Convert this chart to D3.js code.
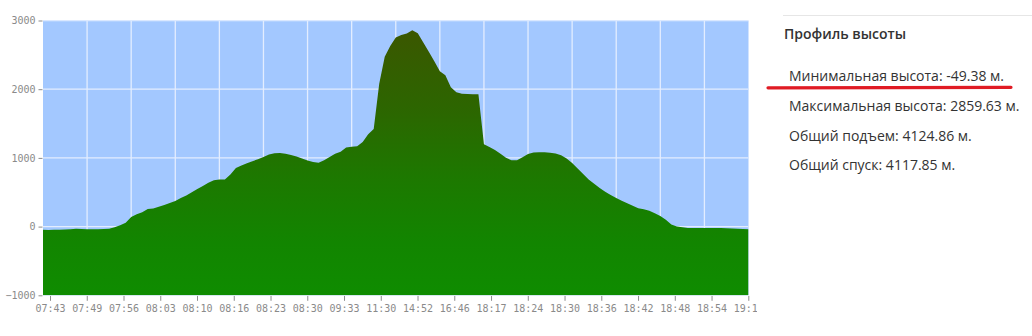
<!DOCTYPE html>
<html>
<head>
<meta charset="utf-8">
<title>Профиль высоты</title>
<script src="https://d3js.org/d3.v7.min.js"></script>
<style>
  body { margin: 0; background: #fff; }
  svg { display: block; }
</style>
</head>
<body>
<script>
// elevation samples (m), evenly spaced along the track
const elevation = [
  -47, -49, -47, -46, -42, -39, -33, -35, -39, -39, -39, -36, -33, -10, 20, 55,
  141, 178, 210, 258, 262, 288, 316, 342, 374, 415, 454, 501, 547, 592, 638, 674,
  687, 686, 758, 852, 888, 923, 953, 981, 1013, 1048, 1068, 1071, 1060, 1042, 1019, 991,
  962, 942, 929, 967, 1013, 1061, 1090, 1153, 1162, 1170, 1231, 1344, 1419, 2080,
  2472, 2629, 2753, 2789, 2812, 2859, 2814, 2678, 2544, 2406, 2261, 2202, 2028, 1955, 1934, 1930,
  1926, 1926, 1198, 1160, 1115, 1060, 1003, 965, 965, 1009, 1058, 1077, 1084, 1081, 1076, 1063,
  1038, 990, 926, 846, 766, 686, 622, 562, 509, 460, 416, 376, 339, 303, 266, 252,
  231, 195, 154, 98, 31, 3, -10, -19, -20, -20, -20, -20, -20, -22, -25, -29,
  -32, -36, -39
];
const timeLabels = ["07:43", "07:49", "07:56", "08:03", "08:10", "08:16", "08:23", "08:30", "09:33", "11:30",
  "14:52", "16:46", "18:17", "18:24", "18:30", "18:36", "18:42", "18:48", "18:54", "19:12"];
const yTicks = [-1000, 0, 1000, 2000, 3000];
const statLabels = ["Минимальная высота: -49.38 м.", "Максимальная высота: 2859.63 м.",
  "Общий подъем: 4124.86 м.", "Общий спуск: 4117.85 м."];

const W = 1032, H = 336;
const plot = {left: 43, right: 748.5, top: 20.5, bottom: 295.3};

const svg = d3.select("body").append("svg")
  .attr("width", W).attr("height", H);

const defs = svg.append("defs");
const grad = defs.append("linearGradient")
  .attr("id", "elev").attr("gradientUnits", "userSpaceOnUse")
  .attr("x1", 0).attr("x2", 0).attr("y1", 30).attr("y2", plot.bottom);
[[0, "#3b5700"], [0.3, "#2c6600"], [0.55, "#1d7800"], [0.8, "#128500"], [1, "#0f8c00"]]
  .forEach(s => grad.append("stop").attr("offset", s[0]).attr("stop-color", s[1]));

defs.append("clipPath").attr("id", "plotclip").append("rect")
  .attr("x", plot.left).attr("y", plot.top)
  .attr("width", plot.right - plot.left).attr("height", plot.bottom - plot.top);
defs.append("clipPath").attr("id", "chartclip").append("rect")
  .attr("x", 0).attr("y", 0).attr("width", 757).attr("height", H);

const x = d3.scaleLinear().domain([0, elevation.length - 1]).range([plot.left, plot.right]);
const y = d3.scaleLinear().domain([-1000, 3000]).range([plot.bottom, plot.top]);
const xt = d3.scalePoint().domain(timeLabels).range([50, 748.3]);

// background + grid
svg.append("rect")
  .attr("x", plot.left).attr("y", plot.top)
  .attr("width", plot.right - plot.left).attr("height", plot.bottom - plot.top)
  .attr("fill", "#a3c8ff");

const grid = svg.append("g").attr("clip-path", "url(#plotclip)")
  .attr("stroke", "#e3edff").attr("stroke-width", 1.3);
grid.selectAll("line.h").data(yTicks).join("line")
  .attr("class", "h")
  .attr("x1", plot.left).attr("x2", plot.right)
  .attr("y1", d => y(d)).attr("y2", d => y(d));
grid.selectAll("line.v").data(d3.range(8, elevation.length - 1, 8)).join("line")
  .attr("class", "v")
  .attr("x1", d => x(d)).attr("x2", d => x(d))
  .attr("y1", plot.top).attr("y2", plot.bottom);

// elevation area
const area = d3.area()
  .x((d, i) => x(i))
  .y0(y(-1000))
  .y1(d => y(d));

svg.append("path")
  .datum(elevation)
  .attr("clip-path", "url(#plotclip)")
  .attr("fill", "url(#elev)")
  .attr("d", area);

// axes
const axisFont = "'DejaVu Sans Mono', monospace";
const yAxis = svg.append("g")
  .attr("transform", `translate(${plot.left - 0.5},0)`)
  .call(d3.axisLeft(y).tickValues(yTicks).tickFormat(d3.format("d")).tickSize(4).tickPadding(3));
const xAxis = svg.append("g")
  .attr("clip-path", "url(#chartclip)")
  .attr("transform", `translate(0,${plot.bottom + 0.5})`)
  .call(d3.axisBottom(xt).tickSize(5).tickPadding(4));

[yAxis, xAxis].forEach(a => {
  a.select(".domain").remove();
  a.selectAll(".tick line").attr("stroke", "#8c8c8c");
  a.selectAll(".tick text").attr("fill", "#8a8a8a")
    .style("font-family", axisFont).style("font-size", "10px");
});

// side panel
const panel = svg.append("g").style("font-family", "'Open Sans', sans-serif");
panel.append("line")
  .attr("x1", 783).attr("x2", W).attr("y1", 15.5).attr("y2", 15.5)
  .attr("stroke", "#e6e6e6");
panel.append("text")
  .attr("x", 784).attr("y", 38.5)
  .attr("fill", "#333").style("font-size", "14px").style("font-weight", 600)
  .text("Профиль высоты");
panel.selectAll("text.stat").data(statLabels).join("text")
  .attr("class", "stat")
  .attr("x", 789)
  .attr("y", (d, i) => [81, 110.5, 140.5, 169.5][i])
  .attr("fill", "#333").style("font-size", "14px")
  .text(d => d);
panel.append("line")
  .attr("x1", 768).attr("x2", 1011).attr("y1", 87.8).attr("y2", 87.3)
  .attr("stroke", "#e01b24").attr("stroke-width", 3.2)
  .attr("stroke-linecap", "round");
</script>
</body>
</html>
